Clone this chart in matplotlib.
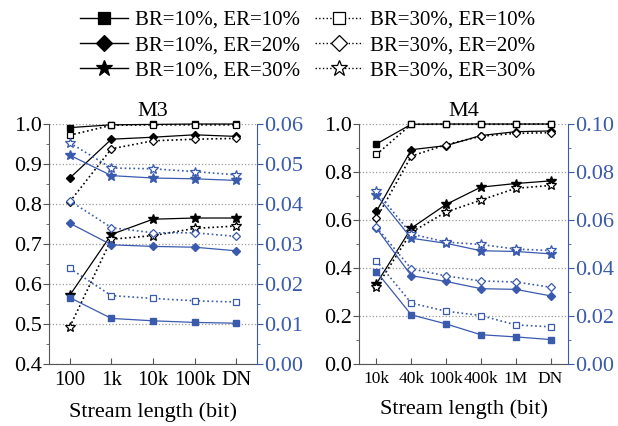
import matplotlib
matplotlib.use("Agg")
import matplotlib.pyplot as plt
from matplotlib.lines import Line2D
from matplotlib.ticker import MultipleLocator

plt.rcParams['font.family'] = ['Liberation Serif', 'DejaVu Serif']

# ---------------- data ----------------
m3_labels = ['100', '1k', '10k', '100k', 'DN']
m4_labels = ['10k', '40k', '100k', '400k', '1M', 'DN']

# M3 left axis (black)
m3_b10_e10 = [0.991, 0.998, 0.999, 1.000, 1.000]
m3_b30_e10 = [0.972, 0.997, 0.998, 0.998, 0.998]
m3_b10_e20 = [0.865, 0.962, 0.967, 0.973, 0.969]
m3_b30_e20 = [0.806, 0.938, 0.958, 0.962, 0.964]
m3_b10_e30 = [0.572, 0.724, 0.762, 0.765, 0.765]
m3_b30_e30 = [0.493, 0.712, 0.721, 0.739, 0.745]
# M3 right axis (blue)
m3r_b10_e10 = [0.0166, 0.0114, 0.0108, 0.0104, 0.0102]
m3r_b30_e10 = [0.0239, 0.0171, 0.0164, 0.0158, 0.0155]
m3r_b10_e20 = [0.0352, 0.0298, 0.0294, 0.0292, 0.0283]
m3r_b30_e20 = [0.0408, 0.0341, 0.0328, 0.0328, 0.0319]
m3r_b10_e30 = [0.0522, 0.0471, 0.0465, 0.0463, 0.0459]
m3r_b30_e30 = [0.0553, 0.0490, 0.0488, 0.0481, 0.0473]

# M4 left axis (black)
m4_b10_e10 = [0.917, 0.999, 1.000, 1.000, 1.000, 1.000]
m4_b30_e10 = [0.873, 0.999, 0.999, 0.999, 0.999, 1.000]
m4_b10_e20 = [0.636, 0.893, 0.910, 0.952, 0.968, 0.971]
m4_b30_e20 = [0.607, 0.866, 0.914, 0.949, 0.961, 0.964]
m4_b10_e30 = [0.335, 0.566, 0.665, 0.737, 0.752, 0.763]
m4_b30_e30 = [0.320, 0.549, 0.633, 0.683, 0.732, 0.744]
# M4 right axis (blue)
m4r_b10_e10 = [0.0385, 0.0205, 0.0167, 0.0122, 0.0113, 0.0102]
m4r_b30_e10 = [0.0430, 0.0254, 0.0220, 0.0202, 0.0163, 0.0155]
m4r_b10_e20 = [0.0566, 0.0368, 0.0344, 0.0314, 0.0311, 0.0284]
m4r_b30_e20 = [0.0570, 0.0397, 0.0367, 0.0346, 0.0342, 0.0320]
m4r_b10_e30 = [0.0704, 0.0524, 0.0503, 0.0472, 0.0469, 0.0459]
m4r_b30_e30 = [0.0719, 0.0542, 0.0508, 0.0498, 0.0479, 0.0473]

legend_labels = ['BR=10%, ER=10%', 'BR=10%, ER=20%', 'BR=10%, ER=30%',
                 'BR=30%, ER=10%', 'BR=30%, ER=20%', 'BR=30%, ER=30%']

BLUE = '#3a5aae'
GRID = '#999999'
SPINE = '#555555'

markers = ['s', 'D', '*']
msizes = [4.5, 4.5, 7.0]

fig = plt.figure(figsize=(6.18, 4.26), dpi=100)


def panel(rect, labels, left_solid, left_dot, right_solid, right_dot,
          ylim, ymaj, ymin, rlim, rmaj, rmin, lfmt, rfmt, title, xfs):
    ax = fig.add_axes(rect)
    axr = ax.twinx()
    x = list(range(len(labels)))
    for i in range(3):
        ax.plot(x, left_solid[i], '-', color='black', lw=0.9, clip_on=False,
                marker=markers[i], ms=msizes[i], mfc='black', mec='black', zorder=3)
        ax.plot(x, left_dot[i], ':', color='black', lw=1.2, clip_on=False,
                marker=markers[i], ms=msizes[i], mfc='white', mec='black', mew=0.9, zorder=3)
        axr.plot(x, right_solid[i], '-', color=BLUE, lw=0.9, clip_on=False,
                 marker=markers[i], ms=msizes[i], mfc=BLUE, mec=BLUE, zorder=3)
        axr.plot(x, right_dot[i], ':', color=BLUE, lw=1.2, clip_on=False,
                 marker=markers[i], ms=msizes[i], mfc='white', mec=BLUE, mew=0.9, zorder=3)
    ax.set_xlim(-0.5, len(labels) - 0.5)
    ax.set_xticks(x)
    ax.set_xticklabels(labels, fontsize=xfs)
    ax.set_ylim(*ylim)
    ax.yaxis.set_major_locator(MultipleLocator(ymaj))
    ax.yaxis.set_minor_locator(MultipleLocator(ymin))
    ax.yaxis.set_major_formatter(lfmt)
    axr.set_ylim(*rlim)
    axr.yaxis.set_major_locator(MultipleLocator(rmaj))
    axr.yaxis.set_minor_locator(MultipleLocator(rmin))
    axr.yaxis.set_major_formatter(rfmt)
    ax.grid(axis='y', which='major', linestyle=':', color=GRID, lw=0.9)
    ax.set_axisbelow(True)
    for a in (ax, axr):
        a.spines['top'].set_visible(False)
    ax.spines['left'].set_color(SPINE)
    ax.spines['bottom'].set_color(SPINE)
    ax.spines['right'].set_visible(False)
    axr.spines['left'].set_visible(False)
    axr.spines['bottom'].set_visible(False)
    axr.spines['right'].set_color(BLUE)
    ax.tick_params(axis='y', which='major', direction='out', length=4, color=SPINE,
                   labelsize=16, pad=1)
    ax.tick_params(axis='y', which='minor', direction='out', length=2.5, color=SPINE)
    ax.tick_params(axis='x', direction='in', length=4, color=SPINE, pad=5)
    axr.tick_params(axis='y', which='major', direction='out', length=4, color=BLUE,
                    labelcolor=BLUE, labelsize=16, pad=1)
    axr.tick_params(axis='y', which='minor', direction='out', length=2.5, color=BLUE)
    ax.set_title(title, fontsize=16, pad=6)
    ax.set_xlabel('Stream length (bit)', fontsize=16, labelpad=9)
    return ax, axr


panel([0.0793, 0.1455, 0.3366, 0.5634], m3_labels,
      [m3_b10_e10, m3_b10_e20, m3_b10_e30], [m3_b30_e10, m3_b30_e20, m3_b30_e30],
      [m3r_b10_e10, m3r_b10_e20, m3r_b10_e30], [m3r_b30_e10, m3r_b30_e20, m3r_b30_e30],
      (0.4, 1.0), 0.1, 0.05, (0.0, 0.06), 0.01, 0.005, '{x:.1f}', '{x:.2f}', 'M3', 15)

panel([0.581, 0.1455, 0.338, 0.5634], m4_labels,
      [m4_b10_e10, m4_b10_e20, m4_b10_e30], [m4_b30_e10, m4_b30_e20, m4_b30_e30],
      [m4r_b10_e10, m4r_b10_e20, m4r_b10_e30], [m4r_b30_e10, m4r_b30_e20, m4r_b30_e30],
      (0.0, 1.0), 0.2, 0.1, (0.0, 0.10), 0.02, 0.01, '{x:.1f}', '{x:.2f}', 'M4', 12.5)

handles = []
for ls, mfc in (('-', 'black'), (':', 'white')):
    for i in range(3):
        handles.append(Line2D([], [], linestyle=ls, color='black', lw=1.0,
                              marker=markers[i], ms=[8.5, 8.5, 12][i],
                              mfc=mfc, mec='black', mew=0.9))
fig.legend(handles, legend_labels, loc='upper center', bbox_to_anchor=(0.498, 1.01),
           ncol=2, frameon=False, fontsize=15, handlelength=2.3, handletextpad=0.33,
           columnspacing=0.7, labelspacing=0.28, borderpad=0.2)

fig.savefig('out.png', dpi=100)
